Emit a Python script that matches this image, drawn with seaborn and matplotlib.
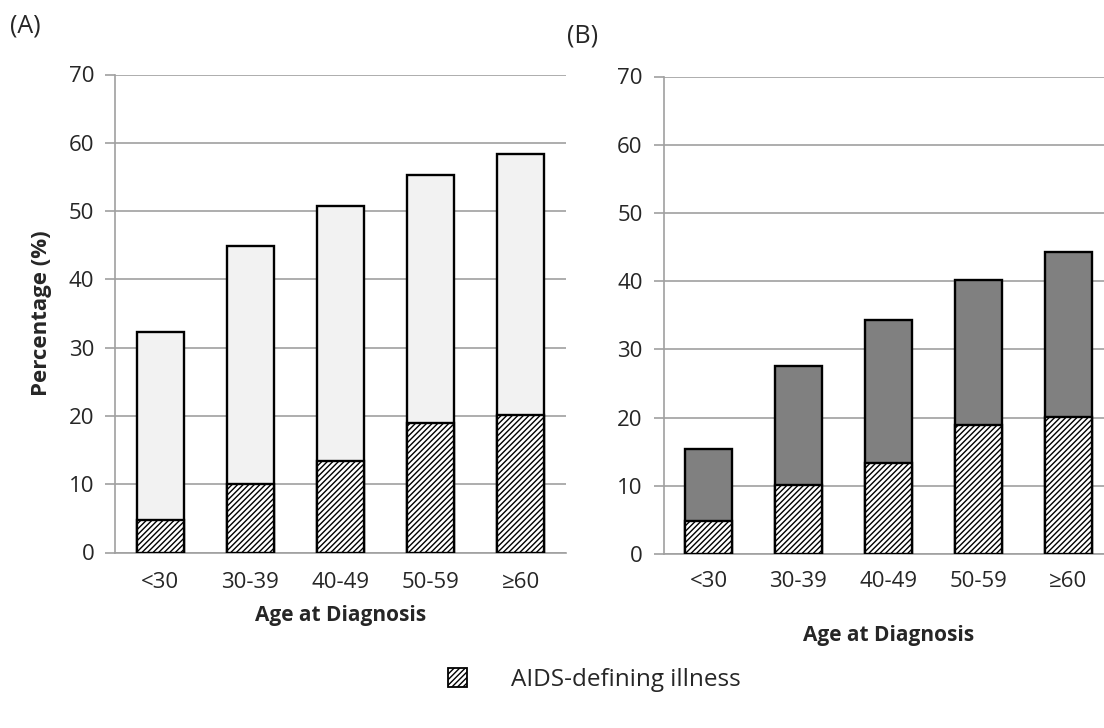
import matplotlib
matplotlib.use("Agg")
import matplotlib.pyplot as plt
import seaborn as sns
import pandas as pd
from matplotlib.patches import Patch

categories = ["<30", "30-39", "40-49", "50-59", "≥60"]
total_a = [32.3, 44.9, 50.7, 55.3, 58.3]
total_b = [15.4, 27.5, 34.3, 40.1, 44.3]
aids = [4.8, 10.1, 13.4, 18.9, 20.1]
yticks = [0, 10, 20, 30, 40, 50, 60, 70]

sns.set_theme(style="white")
plt.rcParams['font.family'] = ['Open Sans', 'DejaVu Sans']
plt.rcParams['hatch.linewidth'] = 1.0
plt.rcParams['hatch.color'] = 'black'

df_a = pd.DataFrame({"cat": categories, "total": total_a, "aids": aids})
df_b = pd.DataFrame({"cat": categories, "total": total_b, "aids": aids})

fig = plt.figure(figsize=(11.04, 7.28), dpi=100)
ax_a = fig.add_axes([115/1104, (728-552.5)/728, 451/1104, 478/728])
ax_b = fig.add_axes([663.5/1104, (728-554)/728, 450/1104, 477.5/728])

grid_col = '#a0a0a0'
for ax, df, col in [(ax_a, df_a, '#f2f2f2'), (ax_b, df_b, '#808080')]:
    sns.barplot(data=df, x="cat", y="total", ax=ax, color=col, width=0.52,
                edgecolor='black', linewidth=1.7, saturation=1, zorder=3)
    sns.barplot(data=df, x="cat", y="aids", ax=ax, color='white', width=0.52,
                edgecolor='black', linewidth=1.7, saturation=1, hatch='//////', zorder=4)
    ax.set_ylim(0, 70)
    ax.set_xlim(-0.5, 4.5)
    ax.set_yticks(yticks)
    ax.set_yticklabels([str(t) for t in yticks], fontsize=16)
    ax.set_xticks(range(5))
    ax.set_xticklabels(categories, fontsize=16)
    ax.set_xticks([i - 0.5 for i in range(6)], minor=True)
    ax.tick_params(axis='x', which='minor', length=7, width=1.2, color=grid_col, direction='out')
    ax.tick_params(axis='y', which='major', length=7, width=1.2, color=grid_col, direction='out', pad=8, left=True)
    for t in yticks:
        ax.axhline(t, color=grid_col, lw=1.2, zorder=1)
    for s in ['top', 'right']:
        ax.spines[s].set_visible(False)
    for s in ['left', 'bottom']:
        ax.spines[s].set_color(grid_col)
        ax.spines[s].set_linewidth(1.2)
    ax.set_ylabel("")

ax_a.tick_params(axis='x', which='major', length=0, pad=14)
ax_b.tick_params(axis='x', which='major', length=0, pad=12)
ax_a.set_xlabel("Age at Diagnosis", fontsize=15, fontweight='bold', labelpad=9)
ax_b.set_xlabel("Age at Diagnosis", fontsize=15, fontweight='bold', labelpad=24)
ax_a.set_ylabel("Percentage (%)", fontsize=16, fontweight='bold', labelpad=12)

fig.text(10/1104, 1 - 26/728, "(A)", fontsize=18, va='center', ha='left')
fig.text(567/1104, 1 - 36/728, "(B)", fontsize=18, va='center', ha='left')

handle = Patch(facecolor='white', edgecolor='black', hatch='//////', linewidth=1.3)
fig.legend(handles=[handle], labels=["AIDS-defining illness"], loc='center',
           bbox_to_anchor=(594/1104, 48/728), frameon=False, fontsize=17.5,
           handlelength=0.8, handleheight=0.85, handletextpad=1.8)

fig.savefig("out.png", dpi=100)
